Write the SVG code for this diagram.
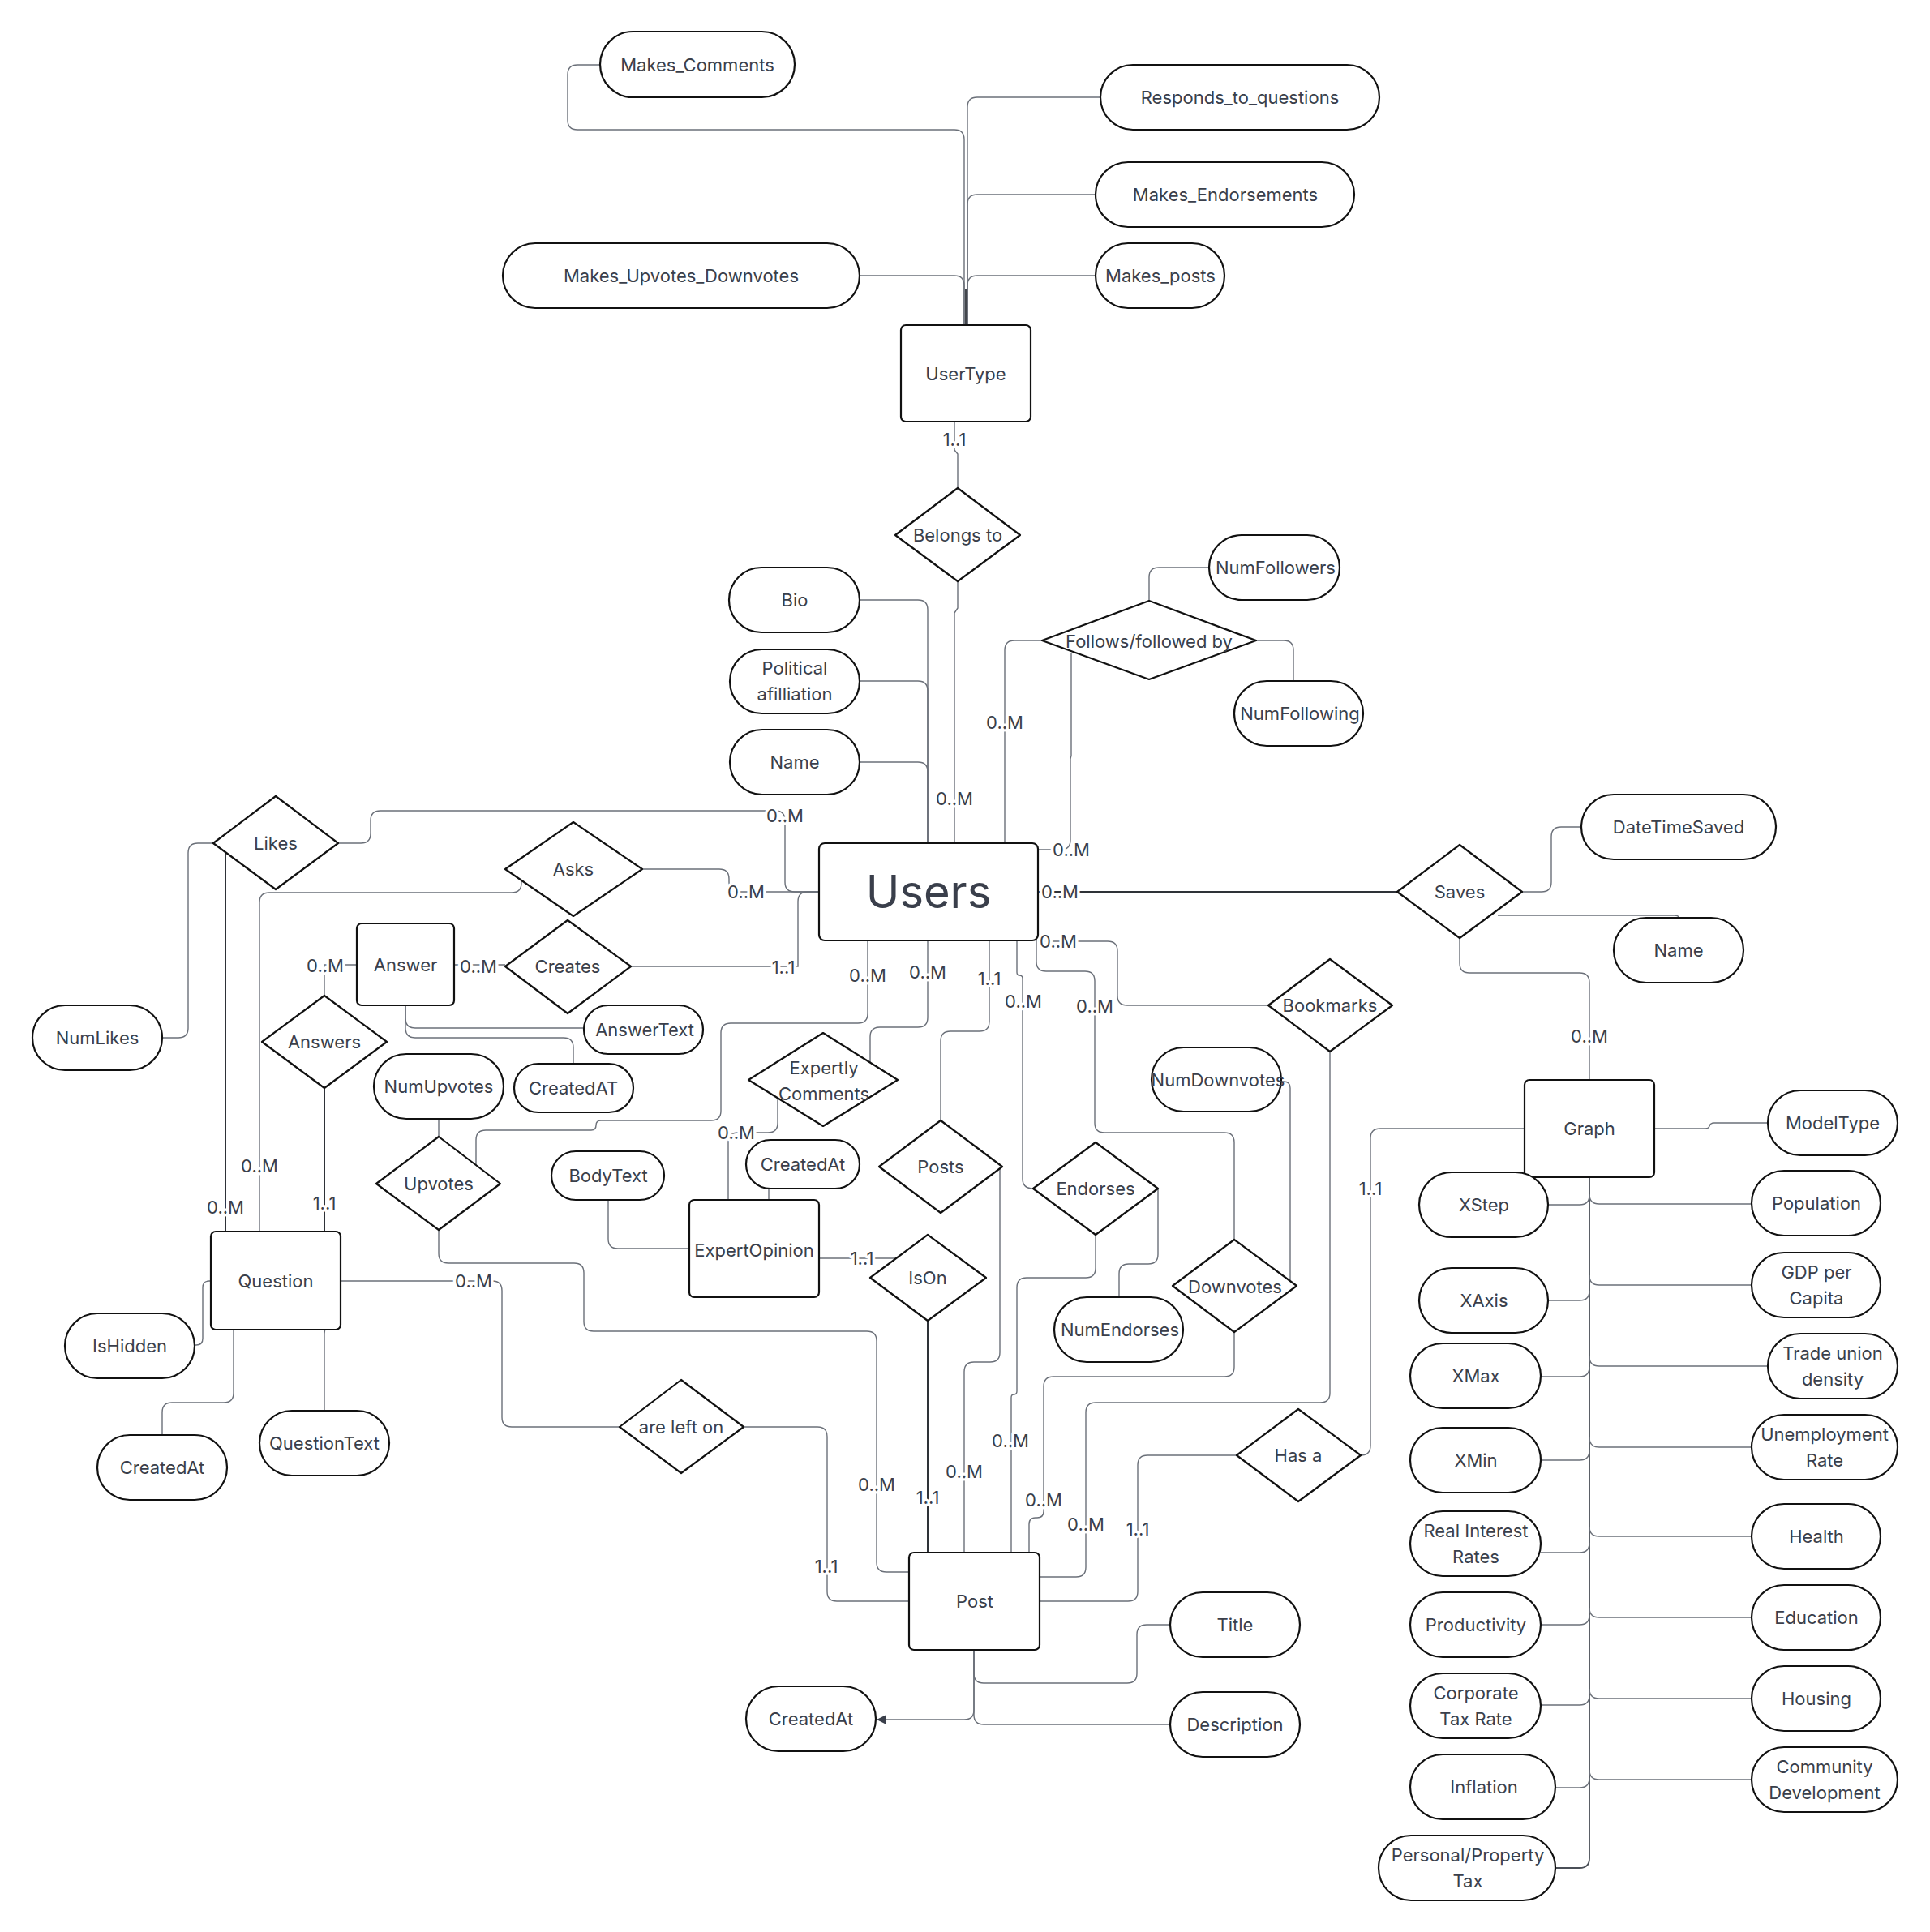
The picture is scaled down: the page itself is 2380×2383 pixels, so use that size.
<svg xmlns="http://www.w3.org/2000/svg" width="2380" height="2383" viewBox="0 0 2380 2383">
<defs>
<style>
.n{fill:#fff;stroke:#111;stroke-width:2.2;stroke-linejoin:round}
.c{fill:none;stroke:#6b7079;stroke-width:1.4}
.cd{fill:none;stroke:#2e3238;stroke-width:2}
.t{font-family:Inter,"Noto Sans","Liberation Sans",sans-serif;font-size:22px;fill:#3a3f4b;text-anchor:middle;dominant-baseline:central}
.lb{font-family:Inter,"Noto Sans","Liberation Sans",sans-serif;font-size:22px;fill:#3a3f4b;text-anchor:middle;dominant-baseline:central;stroke:#fff;stroke-width:7;paint-order:stroke;stroke-linejoin:round}
.big{font-size:56px}
</style>
<marker id="arrow" viewBox="0 0 12 12" refX="11" refY="6" markerWidth="12" markerHeight="12" markerUnits="userSpaceOnUse" orient="auto">
<path d="M0,0 L12,6 L0,12 Z" fill="#3a3f4b"/>
</marker>
</defs>
<rect width="2380" height="2383" fill="#fff"/>

<g id="connectors">
<!-- user type privileges -->
<path class="c" d="M740,80 H712 q-12,0 -12,12 V148 q0,12 12,12 H1177 q12,0 12,12 V401"/>
<path class="c" d="M1357,120 H1205 q-12,0 -12,12 V401"/>
<path class="c" d="M1351,240 H1205 q-12,0 -12,12 V401"/>
<path class="c" d="M1351,340 H1205 q-12,0 -12,12 V401"/>
<path class="c" d="M1060,340 H1177 q12,0 12,12 V401"/>
<path class="cd" d="M1191,356 V401" style="stroke-width:1.8"/>
<!-- belongs to -->
<path class="c" d="M1177,520 V555 L1181,560 V602"/>
<path class="c" d="M1181,717 V750 L1177,756 V1040"/>
<!-- user attributes -->
<path class="c" d="M1060,740 H1132 q12,0 12,12 V1040"/>
<path class="c" d="M1060,840 H1132 q12,0 12,12 V1040"/>
<path class="c" d="M1060,940 H1132 q12,0 12,12 V1040"/>
<!-- follows -->
<path class="c" d="M1491,700 H1429 q-12,0 -12,12 V741"/>
<path class="c" d="M1549,790 H1583 q12,0 12,12 V840"/>
<path class="c" d="M1285,790 H1251 q-12,0 -12,12 V1040"/>
<path class="c" d="M1321,806 V932 L1320,936 V1036 q0,12 -12,12 H1280"/>
<!-- likes / asks / creates -->
<path class="c" d="M417,1040 H445 q12,0 12,-12 V1012 q0,-12 12,-12 H956 q12,0 12,12 V1088 q0,12 12,12 H1010"/>
<path class="c" d="M792,1072 H887 q12,0 12,12 V1088 q0,12 12,12 H1010"/>
<path class="c" d="M778,1192 H984 V1112 q0,-12 12,-12 H1010"/>
<path class="cd" d="M278,1051 V1519"/>
<path class="c" d="M263,1040 H244 q-12,0 -12,12 V1268 q0,12 -12,12 H200"/>
<path class="c" d="M643,1086 V1089 q0,12 -12,12 H332 q-12,0 -12,12 V1519"/>
<!-- answers -->
<path class="c" d="M440,1190 H400 V1228"/>
<path class="c" d="M560,1190 H623"/>
<path class="cd" d="M400,1342 V1519"/>
<path class="c" d="M500,1240 V1256 q0,12 12,12 H720"/>
<path class="c" d="M500,1240 V1268 q0,12 12,12 H695 q12,0 12,12 V1312"/>
<!-- upvotes -->
<path class="c" d="M541,1380 V1402"/>
<path class="c" d="M587,1437 V1406 q0,-12 12,-12 H729 q6,0 6,-6 q0,-6 6,-6 H877 q12,0 12,-12 V1274 q0,-12 12,-12 H1058 q12,0 12,-12 V1160"/>
<path class="c" d="M541,1517 V1546 q0,12 12,12 H708 q12,0 12,12 V1630 q0,12 12,12 H1069 q12,0 12,12 V1927 q0,12 12,12 H1121"/>
<!-- question -->
<path class="c" d="M420,1580 H607 q12,0 12,12 V1748 q0,12 12,12 H764"/>
<path class="c" d="M917,1760 H1008 q12,0 12,12 V1963 q0,12 12,12 H1121"/>
<path class="c" d="M260,1580 H258 q-8,0 -8,8 V1651 q0,8 -8,8 H240"/>
<path class="c" d="M288,1640 V1718 q0,12 -12,12 H212 q-12,0 -12,12 V1770"/>
<path class="c" d="M420,1635 H410 q-10,0 -10,10 V1740"/>
<!-- expert opinion -->
<path class="c" d="M1073,1310 V1279 q0,-12 12,-12 H1132 q12,0 12,-12 V1160"/>
<path class="c" d="M959,1354 V1385 q0,12 -12,12 H910 q-12,0 -12,12 V1480"/>
<path class="c" d="M948,1466 V1480"/>
<path class="c" d="M750,1480 V1528 q0,12 12,12 H850"/>
<path class="c" d="M1010,1552 H1109"/>
<path class="cd" d="M1144,1629 V1915"/>
<!-- posts / endorses / downvotes / bookmarks -->
<path class="c" d="M1160,1382 V1284 q0,-12 12,-12 H1208 q12,0 12,-12 V1160"/>
<path class="c" d="M1233,1441 V1668 q0,12 -12,12 H1201 q-12,0 -12,12 V1915"/>
<path class="c" d="M1274,1466 q-13,0 -13,-12 V1207 q0,-4 -4,-4 q-3,0 -3,-4 V1160"/>
<path class="c" d="M1351,1523 V1564 q0,12 -12,12 H1266 q-12,0 -12,12 V1716 q0,4 -4,4 q-3,0 -3,4 V1915"/>
<path class="c" d="M1428,1466 V1547 q0,12 -12,12 H1392 q-12,0 -12,12 V1600"/>
<path class="c" d="M1522,1529 V1409 q0,-12 -12,-12 H1362 q-12,0 -12,-12 V1210 q0,-12 -12,-12 H1290 q-12,0 -12,-12 V1160"/>
<path class="c" d="M1522,1643 V1686 q0,12 -12,12 H1299 q-12,0 -12,12 V1864 q0,8 -8,8 H1277 q-8,0 -8,8 V1915"/>
<path class="c" d="M1580,1334 H1583 q8,0 8,8 V1579"/>
<path class="c" d="M1280,1161 H1366 q12,0 12,12 V1228 q0,12 12,12 H1564"/>
<path class="c" d="M1640,1297 V1718 q0,12 -12,12 H1351 q-12,0 -12,12 V1933 q0,12 -12,12 H1282"/>
<path class="c" d="M1525,1795 H1415 q-12,0 -12,12 V1963 q0,12 -12,12 H1282"/>
<!-- post attributes -->
<path class="c" d="M1201,2035 V2064 q0,12 12,12 H1390 q12,0 12,-12 V2016 q0,-12 12,-12 H1443"/>
<path class="c" d="M1201,2035 V2115 q0,12 12,12 H1443"/>
<path class="c" d="M1201,2035 V2109 q0,12 -12,12 H1082" marker-end="url(#arrow)"/>
<!-- saves -->
<path class="cd" d="M1280,1100 H1723"/>
<path class="c" d="M1877,1100 H1901 q12,0 12,-12 V1032 q0,-12 12,-12 H1950"/>
<path class="c" d="M1847,1129 H2065 q5,0 5,3"/>
<path class="c" d="M1800,1157 V1188 q0,12 12,12 H1948 q12,0 12,12 V1332"/>
<!-- graph -->
<path class="c" d="M2040,1392 H2103 q4,0 5,-3 q1,-4 6,-4 H2180"/>
<path class="c" d="M1880,1392 H1702 q-12,0 -12,12 V1783 q0,12 -12,12 H1678"/>
<path class="cd" d="M1960,1452 V2292 q0,12 -12,12 H1918" style="stroke:#4a4f57;stroke-width:1.8"/>
<path class="c" d="M1909,1486 H1948 q12,0 12,-12"/>
<path class="c" d="M1909,1604 H1948 q12,0 12,-12"/>
<path class="c" d="M1900,1698 H1948 q12,0 12,-12"/>
<path class="c" d="M1900,1801 H1948 q12,0 12,-12"/>
<path class="c" d="M1900,1915 H1948 q12,0 12,-12"/>
<path class="c" d="M1900,2004 H1948 q12,0 12,-12"/>
<path class="c" d="M1900,2103 H1948 q12,0 12,-12"/>
<path class="c" d="M1918,2205 H1948 q12,0 12,-12"/>
<path class="c" d="M1960,1473 q0,12 12,12 H2160"/>
<path class="c" d="M1960,1573 q0,12 12,12 H2160"/>
<path class="c" d="M1960,1673 q0,12 12,12 H2180"/>
<path class="c" d="M1960,1773 q0,12 12,12 H2160"/>
<path class="c" d="M1960,1883 q0,12 12,12 H2160"/>
<path class="c" d="M1960,1983 q0,12 12,12 H2160"/>
<path class="c" d="M1960,2083 q0,12 12,12 H2160"/>
<path class="c" d="M1960,2183 q0,12 12,12 H2160"/>

<!-- cardinalities -->
<text class="lb" x="1177" y="542">1..1</text>
<text class="lb" x="1177" y="985">0..M</text>
<text class="lb" x="1239" y="891">0..M</text>
<text class="lb" x="1321" y="1048">0..M</text>
<text class="lb" x="968" y="1006">0..M</text>
<text class="lb" x="920" y="1100">0..M</text>
<text class="lb" x="966" y="1193">1..1</text>
<text class="lb" x="1307" y="1100">0..M</text>
<text class="lb" x="1305" y="1161">0..M</text>
<text class="lb" x="1070" y="1203">0..M</text>
<text class="lb" x="1144" y="1199">0..M</text>
<text class="lb" x="1220" y="1207">1..1</text>
<text class="lb" x="1262" y="1235">0..M</text>
<text class="lb" x="1350" y="1241">0..M</text>
<text class="lb" x="1960" y="1278">0..M</text>
<text class="lb" x="1690" y="1466">1..1</text>
<text class="lb" x="401" y="1191">0..M</text>
<text class="lb" x="590" y="1192">0..M</text>
<text class="lb" x="400" y="1484">1..1</text>
<text class="lb" x="320" y="1438">0..M</text>
<text class="lb" x="278" y="1489">0..M</text>
<text class="lb" x="584" y="1580">0..M</text>
<text class="lb" x="908" y="1397">0..M</text>
<text class="lb" x="1063" y="1552">1..1</text>
<text class="lb" x="1081" y="1831">0..M</text>
<text class="lb" x="1144" y="1847">1..1</text>
<text class="lb" x="1189" y="1815">0..M</text>
<text class="lb" x="1246" y="1777">0..M</text>
<text class="lb" x="1287" y="1850">0..M</text>
<text class="lb" x="1339" y="1880">0..M</text>
<text class="lb" x="1403" y="1886">1..1</text>
<text class="lb" x="1019" y="1932">1..1</text>
</g>

<!-- entities -->
<g id="UserType"><rect class="n" x="1111" y="401" width="160" height="119" rx="6"/><text class="t" x="1191" y="461">UserType</text></g>
<g id="Users"><rect class="n" x="1010" y="1040" width="270" height="120" rx="7"/><text class="t big" x="1145" y="1100">Users</text></g>
<g id="Answer"><rect class="n" x="440" y="1139" width="120" height="101" rx="6"/><text class="t" x="500" y="1190">Answer</text></g>
<g id="Question"><rect class="n" x="260" y="1519" width="160" height="121" rx="6"/><text class="t" x="340" y="1580">Question</text></g>
<g id="ExpertOpinion"><rect class="n" x="850" y="1480" width="160" height="120" rx="6"/><text class="t" x="930" y="1542">ExpertOpinion</text></g>
<g id="Post"><rect class="n" x="1121" y="1915" width="161" height="120" rx="6"/><text class="t" x="1202" y="1975">Post</text></g>
<g id="Graph"><rect class="n" x="1880" y="1332" width="160" height="120" rx="6"/><text class="t" x="1960" y="1392">Graph</text></g>

<!-- relationships -->
<g id="BelongsTo"><polygon class="n" points="1181,602 1258,660 1181,717 1104,660"/><text class="t" x="1181" y="660">Belongs to</text></g>
<g id="Follows"><polygon class="n" points="1417,741 1549,790 1417,838 1285,790"/><text class="t" x="1417" y="791">Follows/followed by</text></g>
<g id="Likes"><polygon class="n" points="340,982 417,1040 340,1097 263,1040"/><text class="t" x="340" y="1040">Likes</text></g>
<g id="Asks"><polygon class="n" points="707,1014 792,1072 707,1130 623,1072"/><text class="t" x="707" y="1072">Asks</text></g>
<g id="Creates"><polygon class="n" points="700,1135 778,1192 700,1250 623,1192"/><text class="t" x="700" y="1192">Creates</text></g>
<g id="Answers"><polygon class="n" points="400,1228 477,1285 400,1342 323,1285"/><text class="t" x="400" y="1285">Answers</text></g>
<g id="Upvotes"><polygon class="n" points="541,1402 617,1460 541,1517 464,1460"/><text class="t" x="541" y="1460">Upvotes</text></g>
<g id="ExpertlyComments"><polygon class="n" points="1015,1274 1107,1332 1015,1389 923,1332"/><text class="t" x="1016" y="1317">Expertly</text><text class="t" x="1016" y="1349">Comments</text></g>
<g id="Posts"><polygon class="n" points="1160,1382 1236,1439 1160,1496 1084,1439"/><text class="t" x="1160" y="1439">Posts</text></g>
<g id="IsOn"><polygon class="n" points="1144,1523 1216,1576 1144,1629 1073,1576"/><text class="t" x="1144" y="1576">IsOn</text></g>
<g id="Endorses"><polygon class="n" points="1351,1409 1428,1466 1351,1523 1274,1466"/><text class="t" x="1351" y="1466">Endorses</text></g>
<g id="Downvotes"><polygon class="n" points="1522,1529 1599,1586 1522,1643 1446,1586"/><text class="t" x="1523" y="1587">Downvotes</text></g>
<g id="Bookmarks"><polygon class="n" points="1640,1183 1717,1240 1640,1297 1564,1240"/><text class="t" x="1640" y="1240">Bookmarks</text></g>
<g id="Saves"><polygon class="n" points="1800,1042 1877,1100 1800,1157 1723,1100"/><text class="t" x="1800" y="1100">Saves</text></g>
<g id="HasA"><polygon class="n" points="1601,1738 1678,1795 1601,1852 1525,1795"/><text class="t" x="1601" y="1795">Has a</text></g>
<g id="AreLeftOn"><polygon class="n" points="840,1702 917,1760 840,1817 764,1760"/><text class="t" x="840" y="1760">are left on</text></g>

<!-- attributes -->
<g id="MakesComments"><rect class="n" x="740" y="39" width="240" height="81" rx="40.5"/><text class="t" x="860" y="80">Makes_Comments</text></g>
<g id="RespondsToQuestions"><rect class="n" x="1357" y="80" width="344" height="80" rx="40"/><text class="t" x="1529" y="120">Responds_to_questions</text></g>
<g id="MakesEndorsements"><rect class="n" x="1351" y="200" width="319" height="80" rx="40"/><text class="t" x="1511" y="240">Makes_Endorsements</text></g>
<g id="MakesPosts"><rect class="n" x="1351" y="300" width="159" height="80" rx="40"/><text class="t" x="1431" y="340">Makes_posts</text></g>
<g id="MakesUpvotesDownvotes"><rect class="n" x="620" y="300" width="440" height="80" rx="40"/><text class="t" x="840" y="340">Makes_Upvotes_Downvotes</text></g>
<g id="Bio"><rect class="n" x="899" y="700" width="161" height="80" rx="40"/><text class="t" x="980" y="740">Bio</text></g>
<g id="PoliticalAffiliation"><rect class="n" x="900" y="801" width="160" height="79" rx="39.5"/><text class="t" x="980" y="824">Political</text><text class="t" x="980" y="856">afilliation</text></g>
<g id="UserName"><rect class="n" x="900" y="900" width="160" height="80" rx="40"/><text class="t" x="980" y="940">Name</text></g>
<g id="NumFollowers"><rect class="n" x="1491" y="660" width="161" height="80" rx="40"/><text class="t" x="1573" y="700">NumFollowers</text></g>
<g id="NumFollowing"><rect class="n" x="1522" y="840" width="159" height="80" rx="40"/><text class="t" x="1603" y="880">NumFollowing</text></g>
<g id="NumLikes"><rect class="n" x="40" y="1240" width="160" height="80" rx="40"/><text class="t" x="120" y="1280">NumLikes</text></g>
<g id="AnswerText"><rect class="n" x="720" y="1240" width="147" height="60" rx="30"/><text class="t" x="795" y="1270">AnswerText</text></g>
<g id="AnswerCreatedAt"><rect class="n" x="634" y="1312" width="147" height="60" rx="30"/><text class="t" x="707" y="1342">CreatedAT</text></g>
<g id="NumUpvotes"><rect class="n" x="461" y="1300" width="160" height="80" rx="40"/><text class="t" x="541" y="1340">NumUpvotes</text></g>
<g id="IsHidden"><rect class="n" x="80" y="1620" width="160" height="80" rx="40"/><text class="t" x="160" y="1660">IsHidden</text></g>
<g id="QuestionCreatedAt"><rect class="n" x="120" y="1770" width="160" height="80" rx="40"/><text class="t" x="200" y="1810">CreatedAt</text></g>
<g id="QuestionText"><rect class="n" x="320" y="1740" width="160" height="80" rx="40"/><text class="t" x="400" y="1780">QuestionText</text></g>
<g id="BodyText"><rect class="n" x="680" y="1420" width="139" height="60" rx="30"/><text class="t" x="750" y="1450">BodyText</text></g>
<g id="OpinionCreatedAt"><rect class="n" x="920" y="1406" width="140" height="60" rx="30"/><text class="t" x="990" y="1436">CreatedAt</text></g>
<g id="NumDownvotes"><rect class="n" x="1420" y="1292" width="160" height="79" rx="39.5"/><text class="t" x="1502" y="1332">NumDownvotes</text></g>
<g id="NumEndorses"><rect class="n" x="1300" y="1600" width="159" height="80" rx="40"/><text class="t" x="1381" y="1640">NumEndorses</text></g>
<g id="DateTimeSaved"><rect class="n" x="1950" y="980" width="240" height="80" rx="40"/><text class="t" x="2070" y="1020">DateTimeSaved</text></g>
<g id="SavedName"><rect class="n" x="1990" y="1132" width="160" height="80" rx="40"/><text class="t" x="2070" y="1172">Name</text></g>
<g id="ModelType"><rect class="n" x="2180" y="1345" width="160" height="80" rx="40"/><text class="t" x="2260" y="1385">ModelType</text></g>
<g id="Population"><rect class="n" x="2160" y="1444" width="159" height="80" rx="40"/><text class="t" x="2240" y="1484">Population</text></g>
<g id="XStep"><rect class="n" x="1750" y="1446" width="159" height="80" rx="40"/><text class="t" x="1830" y="1486">XStep</text></g>
<g id="GDPPerCapita"><rect class="n" x="2160" y="1545" width="159" height="80" rx="40"/><text class="t" x="2240" y="1569">GDP per</text><text class="t" x="2240" y="1601">Capita</text></g>
<g id="XAxis"><rect class="n" x="1750" y="1564" width="159" height="80" rx="40"/><text class="t" x="1830" y="1604">XAxis</text></g>
<g id="TradeUnionDensity"><rect class="n" x="2180" y="1645" width="160" height="80" rx="40"/><text class="t" x="2260" y="1669">Trade union</text><text class="t" x="2260" y="1701">density</text></g>
<g id="XMax"><rect class="n" x="1739" y="1657" width="161" height="80" rx="40"/><text class="t" x="1820" y="1697">XMax</text></g>
<g id="XMin"><rect class="n" x="1739" y="1761" width="161" height="80" rx="40"/><text class="t" x="1820" y="1801">XMin</text></g>
<g id="UnemploymentRate"><rect class="n" x="2160" y="1745" width="180" height="80" rx="40"/><text class="t" x="2250" y="1769">Unemployment</text><text class="t" x="2250" y="1801">Rate</text></g>
<g id="Health"><rect class="n" x="2160" y="1855" width="159" height="80" rx="40"/><text class="t" x="2240" y="1895">Health</text></g>
<g id="RealInterestRates"><rect class="n" x="1739" y="1864" width="161" height="80" rx="40"/><text class="t" x="1820" y="1888">Real Interest</text><text class="t" x="1820" y="1920">Rates</text></g>
<g id="Productivity"><rect class="n" x="1739" y="1964" width="161" height="80" rx="40"/><text class="t" x="1820" y="2004">Productivity</text></g>
<g id="Education"><rect class="n" x="2160" y="1955" width="159" height="80" rx="40"/><text class="t" x="2240" y="1995">Education</text></g>
<g id="CorporateTaxRate"><rect class="n" x="1739" y="2064" width="161" height="80" rx="40"/><text class="t" x="1820" y="2088">Corporate</text><text class="t" x="1820" y="2120">Tax Rate</text></g>
<g id="Housing"><rect class="n" x="2160" y="2055" width="159" height="80" rx="40"/><text class="t" x="2240" y="2095">Housing</text></g>
<g id="Inflation"><rect class="n" x="1739" y="2164" width="179" height="80" rx="40"/><text class="t" x="1830" y="2204">Inflation</text></g>
<g id="CommunityDevelopment"><rect class="n" x="2160" y="2155" width="180" height="80" rx="40"/><text class="t" x="2250" y="2179">Community</text><text class="t" x="2250" y="2211">Development</text></g>
<g id="PersonalPropertyTax"><rect class="n" x="1700" y="2264" width="218" height="80" rx="40"/><text class="t" x="1810" y="2288">Personal/Property</text><text class="t" x="1810" y="2320">Tax</text></g>
<g id="Title"><rect class="n" x="1443" y="1964" width="160" height="80" rx="40"/><text class="t" x="1523" y="2004">Title</text></g>
<g id="Description"><rect class="n" x="1443" y="2087" width="160" height="80" rx="40"/><text class="t" x="1523" y="2127">Description</text></g>
<g id="PostCreatedAt"><rect class="n" x="920" y="2080" width="160" height="80" rx="40"/><text class="t" x="1000" y="2120">CreatedAt</text></g>
</svg>
